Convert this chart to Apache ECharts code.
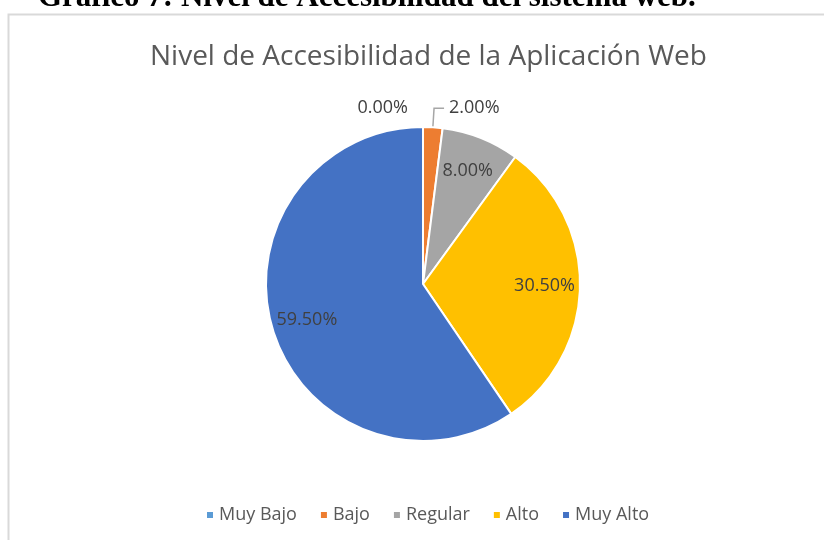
<!DOCTYPE html>
<html>
<head>
<meta charset="utf-8">
<script src="https://cdn.jsdelivr.net/npm/echarts@6/dist/echarts.min.js"></script>
<style>
  html, body { margin: 0; padding: 0; background: #fff; }
  #chart { width: 824px; height: 540px; }
</style>
</head>
<body>
<div id="chart"></div>
<script>
// datos del gráfico
const categorias = ["Muy Bajo", "Bajo", "Regular", "Alto", "Muy Alto"];
const porcentajes = [0, 2, 8, 30.5, 59.5];
const colores = ["#5B9BD5", "#ED7D31", "#A5A5A5", "#FFC000", "#4472C4"];
// etiquetas que van fuera del pastel (las demás van dentro)
const fuera = ["Muy Bajo", "Bajo"];

const fmt = (p) => p.value.toFixed(2) + "%";
const fuente = "'Open Sans', 'DejaVu Sans', sans-serif";

const chart = echarts.init(document.getElementById("chart"));

// serie principal: los sectores
const datosPie = categorias.map((c, i) => {
  const out = fuera.indexOf(c) >= 0;
  return {
    name: c,
    value: porcentajes[i],
    itemStyle: { color: colores[i] },
    label: { show: out },
    labelLine: { show: c == "Bajo" }
  };
});

// serie superpuesta transparente solo para las etiquetas interiores
const datosEtq = categorias.map((c, i) => ({
  name: c,
  value: porcentajes[i],
  itemStyle: { color: "rgba(0,0,0,0)" },
  label: { show: fuera.indexOf(c) < 0 }
}));

chart.setOption({
  animation: false,
  title: {
    text: "Nivel de Accesibilidad de la Aplicación Web",
    left: 145,
    top: 38,
    textStyle: { fontFamily: fuente, fontSize: 28, fontWeight: "normal", color: "#595959" }
  },
  graphic: [
    {
      // pie de figura del documento (cortado arriba)
      type: "text",
      left: 38,
      top: -18,
      style: {
        text: "Gráfico 7: Nivel de Accesibilidad del sistema web.",
        font: "bold 31px 'Liberation Serif', serif",
        fill: "#000"
      }
    },
    {
      // marco del área del gráfico
      type: "rect",
      shape: { x: 8.5, y: 14.5, width: 900, height: 600 },
      style: { fill: "none", stroke: "#d9d9d9", lineWidth: 2 },
      silent: true
    }
  ],
  legend: {
    bottom: 11,
    left: 200,
    icon: "rect",
    itemWidth: 8,
    itemHeight: 8,
    itemGap: 22,
    data: categorias,
    textStyle: { fontFamily: fuente, fontSize: 18, color: "#595959" }
  },
  series: [
    {
      type: "pie",
      center: [423, 284],
      radius: [0, 157],
      startAngle: 90,
      clockwise: true,
      avoidLabelOverlap: false,
      itemStyle: { borderColor: "#fff", borderWidth: 2 },
      label: {
        position: "outside",
        formatter: fmt,
        fontFamily: fuente,
        fontSize: 18,
        color: "#404040"
      },
      labelLine: { length: 19, length2: 10, lineStyle: { color: "#a6a6a6", width: 1.5 } },
      data: datosPie
    },
    {
      type: "pie",
      silent: true,
      center: [423, 284],
      radius: [80, 157],
      startAngle: 90,
      clockwise: true,
      legendHoverLink: false,
      label: {
        position: "inside",
        formatter: fmt,
        fontFamily: fuente,
        fontSize: 18,
        color: "#404040"
      },
      labelLine: { show: false },
      data: datosEtq
    }
  ]
});
</script>
</body>
</html>
